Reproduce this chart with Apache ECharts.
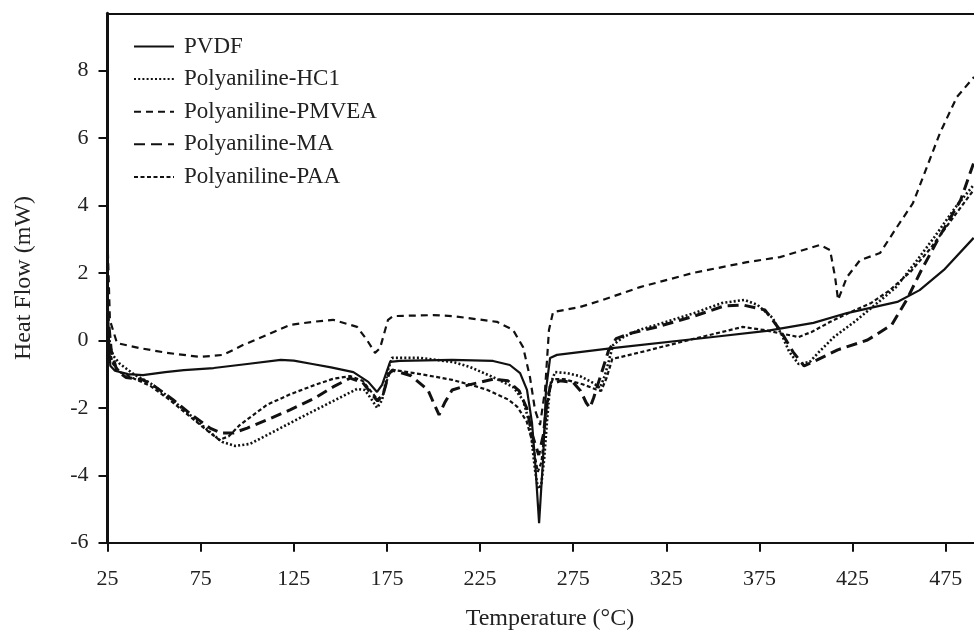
<!DOCTYPE html>
<html><head><meta charset="utf-8">
<script src="https://cdn.jsdelivr.net/npm/echarts@6/dist/echarts.min.js"></script>
<style>html,body{margin:0;padding:0;background:#fff}#c{width:974px;height:632px}</style>
</head><body><div id="c"></div>
<script>
const seriesNames = ['PVDF', 'Polyaniline-HC1', 'Polyaniline-PMVEA', 'Polyaniline-MA', 'Polyaniline-PAA'];
const xTicks = [25, 75, 125, 175, 225, 275, 325, 375, 425, 475];
const yTicks = [-6, -4, -2, 0, 2, 4, 6, 8];

const pvdfX = [25, 25.8, 26.5, 29, 36, 44, 56, 66, 82, 100, 118, 125, 135, 145, 157, 165, 169.7, 172.4, 176.7, 182, 210, 232, 241, 246.5, 250.2, 252.9, 254.5, 256.7, 258.8, 260.4, 262.6, 266.3, 296, 350, 379, 404, 422, 449, 461, 474, 490];
const pvdfY = [1.35, 0.0, -0.75, -0.9, -1.0, -1.03, -0.94, -0.88, -0.82, -0.7, -0.58, -0.6, -0.7, -0.8, -0.94, -1.23, -1.53, -1.32, -0.64, -0.61, -0.58, -0.61, -0.73, -0.97, -1.47, -2.45, -3.54, -5.42, -3.54, -1.47, -0.52, -0.43, -0.23, 0.10, 0.28, 0.52, 0.81, 1.14, 1.49, 2.09, 3.04];

const hclX = [25, 26.5, 28, 31.7, 39.8, 47.8, 58.6, 69.3, 80, 86.5, 93.5, 101.5, 110.6, 128.3, 146.1, 159, 163.2, 167, 169.7, 172.4, 175.6, 177.7, 192.8, 210.5, 219.6, 232, 242.7, 248.1, 251.8, 254.5, 256.1, 257.8, 259.4, 261, 262.6, 265.3, 271.7, 278.7, 285.7, 289.4, 292.1, 296.4, 302, 310, 325, 340, 355, 367, 374, 382, 387, 391, 396, 402, 407, 415, 426, 437, 448, 459, 469, 480, 490];
const hclY = [0.5, -0.2, -0.45, -0.7, -1.03, -1.26, -1.71, -2.21, -2.72, -3.01, -3.13, -3.07, -2.81, -2.30, -1.80, -1.44, -1.47, -1.77, -2.0, -1.77, -0.88, -0.52, -0.52, -0.64, -0.79, -1.09, -1.38, -1.77, -2.51, -3.84, -4.4, -4.3, -3.54, -2.36, -1.32, -0.94, -0.97, -1.06, -1.26, -1.41, -1.03, -0.14, 0.1, 0.3, 0.55, 0.81, 1.11, 1.2, 1.05, 0.67, 0.16, -0.34, -0.70, -0.64, -0.34, 0.10, 0.55, 1.05, 1.56, 2.33, 3.07, 3.93, 4.61];

const pmveaX = [25, 26.3, 30.1, 42.4, 56.9, 74.7, 87, 97.7, 110.6, 123, 135.3, 146.1, 159, 164.3, 168.6, 171.3, 175.6, 178.3, 199.8, 210.5, 234.1, 242.7, 248.1, 251.8, 254.5, 257.2, 259.9, 262, 264.2, 278.7, 291, 310.9, 339.4, 368.3, 386, 407.5, 412.9, 415.6, 417.2, 422, 429, 439.7, 448.8, 457.4, 464.9, 471.9, 481, 490.2];
const pmveaY = [3.0, 0.6, -0.08, -0.23, -0.37, -0.49, -0.43, -0.14, 0.16, 0.46, 0.55, 0.61, 0.40, 0.01, -0.37, -0.23, 0.61, 0.72, 0.75, 0.72, 0.55, 0.31, -0.20, -1.09, -2.06, -2.51, -1.47, 0.31, 0.84, 0.99, 1.20, 1.58, 2.00, 2.32, 2.47, 2.83, 2.68, 1.88, 1.20, 1.88, 2.38, 2.59, 3.36, 4.07, 5.14, 6.15, 7.22, 7.81];

const maX = [25, 27, 30, 35, 44, 50, 60, 70, 80, 86, 92.4, 100, 110.6, 123, 136.4, 146.1, 155.2, 162, 167, 170, 173, 176, 178, 188, 197, 201, 203, 206, 210, 219, 232, 240, 246, 250, 253, 256.5, 259, 261, 263, 268, 275, 279, 282, 284, 286, 290, 294, 298, 305, 320, 340, 356, 366, 378, 386, 393, 399, 406, 417, 433, 446, 454, 462, 473, 483, 490];
const maY = [0.9, -0.3, -0.9, -1.1, -1.17, -1.35, -1.75, -2.2, -2.6, -2.75, -2.75, -2.6, -2.36, -2.06, -1.71, -1.38, -1.12, -1.25, -1.6, -1.8, -1.6, -1.0, -0.88, -1.05, -1.47, -1.97, -2.21, -1.85, -1.47, -1.32, -1.15, -1.2, -1.5, -2.0, -2.8, -3.4, -2.8, -1.8, -1.3, -1.2, -1.25, -1.5, -1.85, -2.0, -1.7, -1.0, -0.3, 0.05, 0.2, 0.4, 0.72, 1.02, 1.05, 0.9, 0.31, -0.34, -0.76, -0.58, -0.28, 0.01, 0.46, 1.20, 2.09, 3.21, 4.16, 5.26];

const paaX = [25, 26.5, 28, 32, 40, 48, 58, 68, 78, 85, 90, 96, 110.6, 123, 136.4, 146.1, 155.2, 162, 167, 170, 173, 176, 179, 193, 210, 222, 229, 240, 245, 250, 253, 256, 258, 260, 262, 264, 270, 280, 287, 290, 293, 296, 300, 315, 337, 355, 366, 377, 388, 396, 403, 413, 424, 435, 445, 456, 467, 478, 490];
const paaY = [0.3, -0.4, -0.7, -0.95, -1.15, -1.35, -1.75, -2.2, -2.65, -2.95, -2.85, -2.51, -1.91, -1.6, -1.32, -1.14, -1.06, -1.2, -1.55, -1.75, -1.6, -1.0, -0.88, -1.0, -1.17, -1.35, -1.47, -1.75, -1.97, -2.4, -3.0, -3.9, -3.6, -2.5, -1.5, -1.15, -1.15, -1.3, -1.45, -1.5, -1.1, -0.55, -0.5, -0.3, 0.01, 0.25, 0.4, 0.31, 0.19, 0.10, 0.25, 0.55, 0.84, 1.11, 1.49, 2.03, 2.74, 3.57, 4.46];

function pairs(xs, ys) { return xs.map((x, i) => [x, ys[i]]); }

const font = '"Liberation Serif", "Times New Roman", serif';
const ink = '#111';
const styles = [
  { width: 2.2, type: 'solid' },
  { width: 2.6, type: [2, 2.2] },
  { width: 2.2, type: [7, 5] },
  { width: 3, type: [11, 6] },
  { width: 2.2, type: [4, 2.5] }
];
const dataSets = [pairs(pvdfX, pvdfY), pairs(hclX, hclY), pairs(pmveaX, pmveaY), pairs(maX, maY), pairs(paaX, paaY)];

const chart = echarts.init(document.getElementById('c'), null, { renderer: 'canvas' });
chart.setOption({
  animation: false,
  backgroundColor: '#fff',
  grid: { left: 107.5, right: -18.3, top: 13.3, bottom: 89.3, containLabel: false, outerBoundsMode: 'none' },
  legend: {
    orient: 'vertical', left: 128, top: 30, itemWidth: 40, itemHeight: 14, itemGap: 9.6,
    data: seriesNames,
    itemStyle: { color: 'rgba(0,0,0,0)', borderWidth: 0, opacity: 0 },
    textStyle: { fontSize: 23, lineHeight: 23, fontFamily: font, color: '#222', padding: [0, 0, 0, 5] }
  },
  xAxis: [{
    type: 'value', min: 25, max: 500, interval: 50,
    axisLine: { show: true, onZero: false, lineStyle: { color: ink, width: 2 } },
    axisTick: { show: true, length: 9, customValues: xTicks, lineStyle: { color: ink, width: 2 } },
    axisLabel: { customValues: xTicks, margin: 26, fontSize: 22, fontFamily: font, color: '#222' },
    splitLine: { show: false },
    name: 'Temperature (°C)', nameLocation: 'middle', nameGap: 64,
    nameTextStyle: { fontSize: 24, fontFamily: font, color: '#222' }
  }, {
    type: 'value', position: 'top', min: 25, max: 500,
    axisLine: { show: true, onZero: false, lineStyle: { color: ink, width: 2 } },
    axisTick: { show: false }, axisLabel: { show: false }, splitLine: { show: false }
  }],
  yAxis: {
    type: 'value', min: -6, max: 9.7, interval: 2,
    axisLine: { show: true, onZero: false, lineStyle: { color: ink, width: 3 } },
    axisTick: { show: true, length: 9, customValues: yTicks, lineStyle: { color: ink, width: 2 } },
    axisLabel: { customValues: yTicks, margin: 19, fontSize: 22, fontFamily: font, color: '#222' },
    splitLine: { show: false },
    name: 'Heat Flow (mW)', nameLocation: 'middle', nameGap: 72,
    nameTextStyle: { fontSize: 24, fontFamily: font, color: '#222' }
  },
  series: seriesNames.map((n, i) => ({
    type: 'line', name: n, data: dataSets[i], symbol: 'none', showSymbol: false,
    color: ink, lineStyle: { color: ink, width: styles[i].width, type: styles[i].type },
    silent: true
  }))
});
</script></body></html>
